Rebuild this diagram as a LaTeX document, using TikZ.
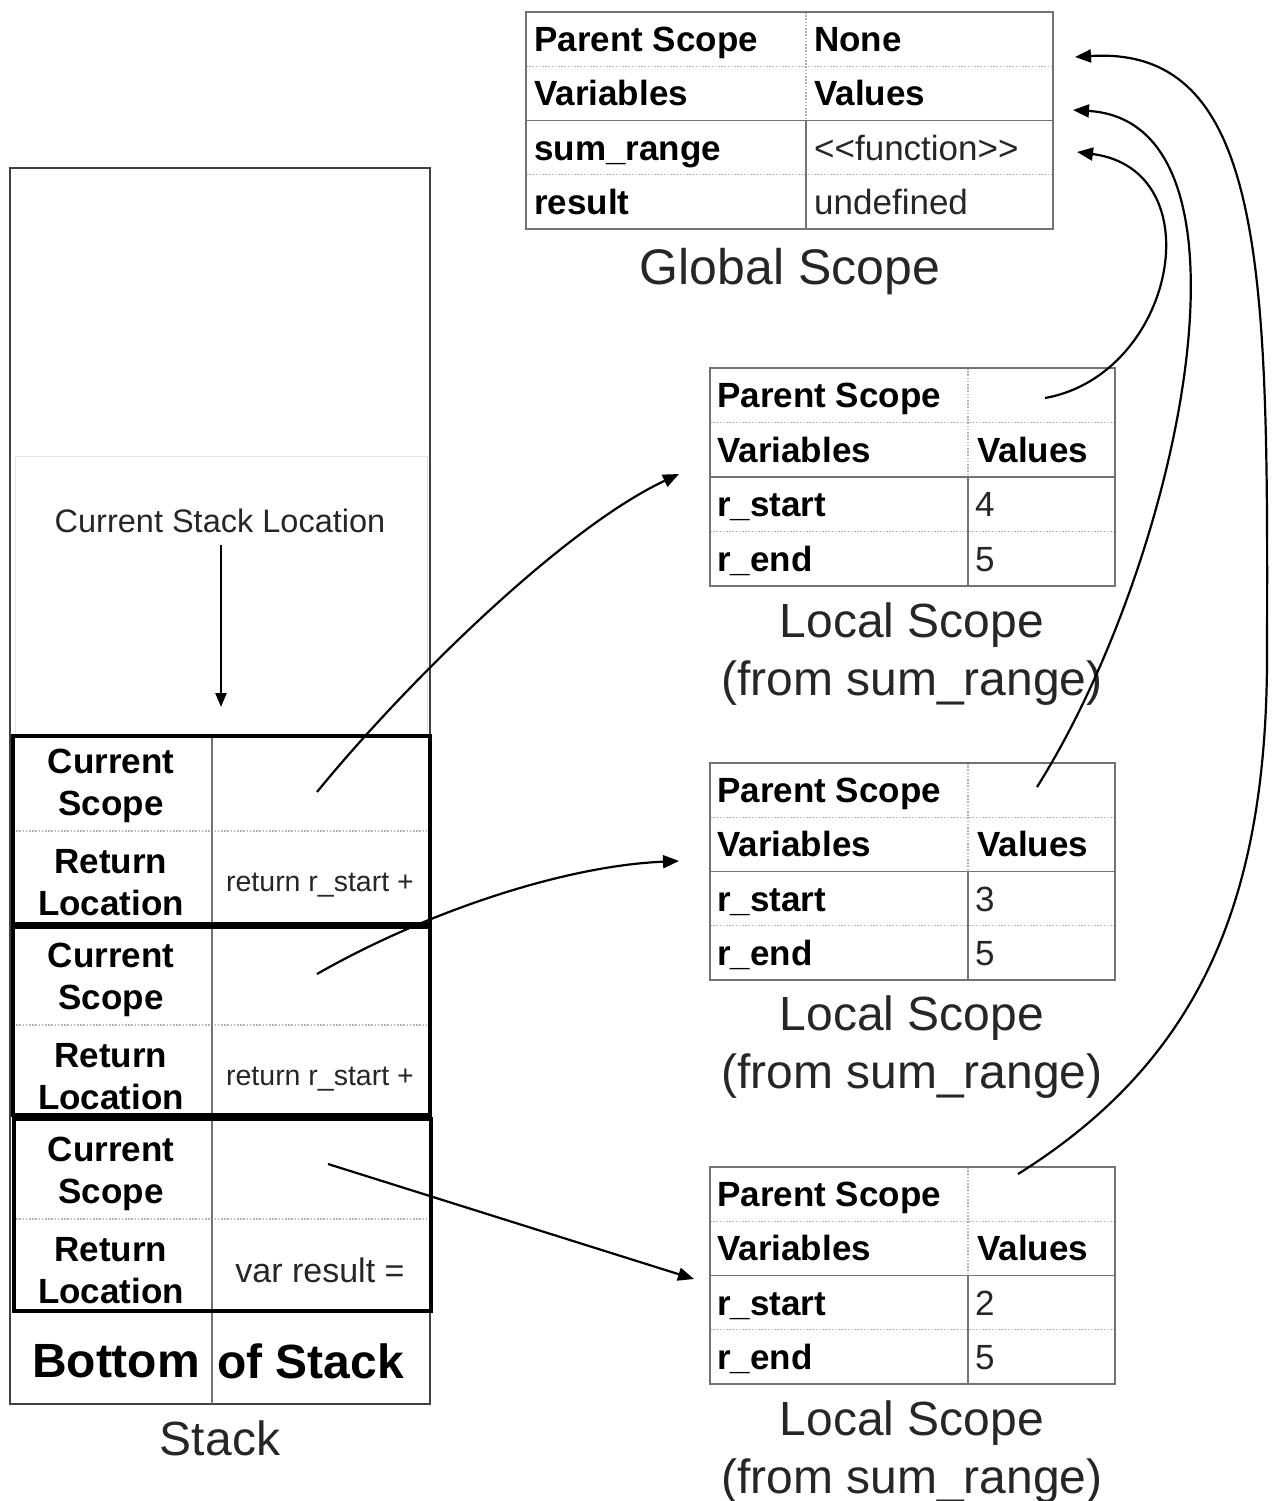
\documentclass[tikz,border=0pt]{standalone}
\usepackage{fontspec}
\setmainfont{Liberation Sans}
\usetikzlibrary{arrows.meta}
\newcommand\tabfont{\fontsize{35}{42}\selectfont}
\newcommand\labfont{\fontsize{48}{58}\selectfont}
\newcommand\cslfont{\fontsize{32.5}{38}\selectfont}
\newcommand\retfont{\fontsize{28.5}{34}\selectfont}
\newcommand\varfont{\fontsize{34}{40}\selectfont}
\newcommand\botfont{\fontsize{48}{56}\selectfont}
% grid of a scope table: x0, xs, x1, y0, row height
\newcommand\tabgrid[5]{%
  \draw[dline] ({#1},{#4+#5}) -- ({#3},{#4+#5});
  \draw[dline] ({#1},{#4+3*#5}) -- ({#3},{#4+3*#5});
  \draw[dline] ({#2},{#4}) -- ({#2},{#4+2*#5});
  \draw[tline] ({#1},{#4+2*#5}) -- ({#3},{#4+2*#5});
  \draw[tline] ({#2},{#4+2*#5}) -- ({#2},{#4+4*#5});
  \draw[tline] ({#1},{#4}) rectangle ({#3},{#4+4*#5});
}
\begin{document}
\begin{tikzpicture}[x=1pt,y=-1pt,
  tline/.style={draw=black!55, line width=1.4pt},
  dline/.style={draw=black!30, line width=1.3pt, dash pattern=on 1.6pt off 1.6pt},
  sline/.style={draw=black!75, line width=1.4pt},
  tb/.style={font=\tabfont\bfseries, anchor=west, inner sep=0pt, text height=30pt, text depth=5pt},
  tr/.style={font=\tabfont, anchor=west, inner sep=0pt, text height=30pt, text depth=5pt, text=black!85},
  lab/.style={font=\labfont, inner sep=0pt, text=black!85, text height=40pt, text depth=6pt},
  sc/.style={font=\tabfont\bfseries, align=center, inner sep=0pt},
  frm/.style={draw=black, line width=4pt, inner sep=0pt, minimum width=417pt},
  conn/.style={draw=black, line width=2.2pt, -{Triangle[length=16pt,width=13pt]}},
  sarrow/.style={draw=black, line width=2.2pt, -{Triangle[length=14pt,width=11pt]}}
]
\useasboundingbox (0,0) rectangle (1274,1501);

% ---------------- Global scope ----------------
\tabgrid{526}{806}{1053}{12}{54.25}
\node[tb] (gps)  at (534,39.1)  {Parent Scope};
\node[tb] (gnone) at (814,39.1) {None};
\node[tb] (gvar) at (534,93.4)  {Variables};
\node[tb] (gval) at (814,93.4)  {Values};
\node[tb] (gsr)  at (534,147.6) {sum\_range};
\node[tr] (gfn)  at (814,147.6) {<{}<function>{}>};
\node[tb] (gres) at (534,201.9) {result};
\node[tr] (gund) at (814,201.9) {undefined};
\node[lab, font=\fontsize{50}{60}\selectfont] (glab) at (790,267) {Global Scope};

% ---------------- Local scope 1 ----------------
\tabgrid{710}{968}{1115}{368}{54.5}
\node[tb] (aps)  at (717,395.25) {Parent Scope};
\node[tb] (avar) at (717,449.75) {Variables};
\node[tb] (aval) at (977,449.75) {Values};
\node[tb] (ars)  at (717,504.25) {r\_start};
\node[tr] (arsv) at (975,504.25) {4};
\node[tb] (are)  at (717,558.75) {r\_end};
\node[tr] (arev) at (975,558.75) {5};
\node[lab] (alab1) at (912,620) {Local Scope};
\node[lab] (alab2) at (912,678) {(from sum\_range)};

% ---------------- Local scope 2 ----------------
\tabgrid{710}{968}{1115}{763}{54.25}
\node[tb] (bps)  at (717,790.1) {Parent Scope};
\node[tb] (bvar) at (717,844.4) {Variables};
\node[tb] (bval) at (977,844.4) {Values};
\node[tb] (brs)  at (717,898.6) {r\_start};
\node[tr] (brsv) at (975,898.6) {3};
\node[tb] (bre)  at (717,952.9) {r\_end};
\node[tr] (brev) at (975,952.9) {5};
\node[lab] (blab1) at (912,1013) {Local Scope};
\node[lab] (blab2) at (912,1071) {(from sum\_range)};

% ---------------- Local scope 3 ----------------
\tabgrid{710}{968}{1115}{1167}{54.25}
\node[tb] (cps)  at (717,1194.1) {Parent Scope};
\node[tb] (cvar) at (717,1248.4) {Variables};
\node[tb] (cval) at (977,1248.4) {Values};
\node[tb] (crs)  at (717,1302.6) {r\_start};
\node[tr] (crsv) at (975,1302.6) {2};
\node[tb] (cre)  at (717,1356.9) {r\_end};
\node[tr] (crev) at (975,1356.9) {5};
\node[lab] (clab1) at (912,1418) {Local Scope};
\node[lab] (clab2) at (912,1476) {(from sum\_range)};

% ---------------- Stack ----------------
\draw[sline] (10,168) rectangle (430,1404);
\draw[draw=black!10, line width=1pt] (15,456) rectangle (427,735);
\node[font=\cslfont, inner sep=0pt, text=black!85, text height=28pt, text depth=5pt] (csl) at (220,521) {Current Stack Location};
\coordinate (cslend) at (221,707);
\draw[sarrow] (221,545) -- (cslend);

% frame 1
\draw[dline] (13,831) -- (430,831);
\draw[tline] (212,736) -- (212,924);
\node[frm, minimum height=188pt] (fr1) at (221.5,830) {};
\node[sc] (f1cs) at (111,786) {Current\\Scope};
\node[sc] (f1rl) at (111,883) {Return\\Location};
\node[font=\retfont, inner sep=0pt, text=black!85, text height=25pt, text depth=5pt] (f1rv) at (320,881) {return r\_start +};
% frame 2
\draw[dline] (13,1025) -- (430,1025);
\draw[tline] (212,927) -- (212,1115);
\node[frm, minimum height=188pt] (fr2) at (221.5,1021) {};
\node[sc] (f2cs) at (111,980) {Current\\Scope};
\node[sc] (f2rl) at (111,1077) {Return\\Location};
\node[font=\retfont, inner sep=0pt, text=black!85, text height=25pt, text depth=5pt] (f2rv) at (320,1075) {return r\_start +};
% frame 3
\draw[dline] (13,1219) -- (430,1219);
\draw[tline] (212,1119) -- (212,1311);
\node[frm, minimum height=192pt] (fr3) at (222,1215) {};
\node[sc] (f3cs) at (111,1174) {Current\\Scope};
\node[sc] (f3rl) at (111,1271) {Return\\Location};
\node[font=\varfont, inner sep=0pt, text=black!85, text height=29pt, text depth=5pt] (f3rv) at (320,1270) {var result =};
% bottom of stack
\draw[tline] (212,1313) -- (212,1404);
\node[font=\botfont\bfseries, inner sep=0pt] (bot1) at (116,1361) {Bottom};
\node[font=\botfont\bfseries, inner sep=0pt, anchor=west] (bot2) at (217,1361) {of Stack};
\node[lab] (stlab) at (220,1438) {Stack};

% ---------------- connector ends ----------------
\coordinate (f1p) at (317,792);
\coordinate (f2p) at (317,974);
\coordinate (f3p) at (328,1164);
\coordinate (l1in) at (679,474);
\coordinate (l2in) at (679,861);
\coordinate (l3in) at (694,1279);
\coordinate (l1p) at (1045,398);
\coordinate (l2p) at (1037,787);
\coordinate (l3p) at (1018,1174);
\coordinate (l3via) at (1267,650);
\coordinate (gin1) at (1075,57);
\coordinate (gin2) at (1073,110);
\coordinate (gin3) at (1077,152);

% ---------------- connectors ----------------
\draw[conn] (f1p) .. controls (400,690) and (560,530) .. (l1in);
\draw[conn] (f2p) .. controls (420,915) and (560,866) .. (l2in);
\draw[conn] (f3p) -- (l3in);
\draw[conn] (l1p) .. controls (1175,375) and (1215,170) .. (gin3);
\draw[conn] (l2p) .. controls (1180,560) and (1272,122) .. (gin2);
\draw[conn] (l3p) .. controls (1200,1060) and (1268,900) .. (l3via)
  .. controls (1268,280) and (1268,45) .. (gin1);
\end{tikzpicture}
\end{document}
